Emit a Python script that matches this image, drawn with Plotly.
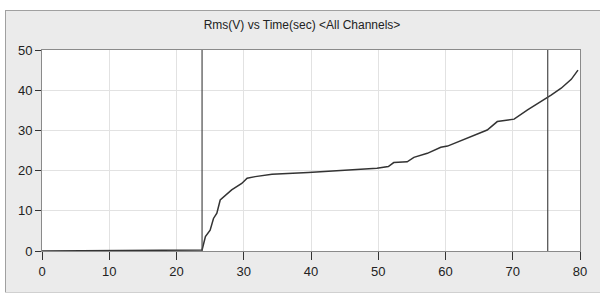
import plotly.graph_objects as go

# Data
time_sec = [0, 23.8, 24.3, 25.0, 25.5, 26.0, 26.5, 27.3, 28.2, 29.7, 30.5, 31.7, 34.2,
            39.6, 44.1, 49.8, 51.5, 52.3, 54.3, 55.3, 57.3, 59.3, 60.3, 62.2, 64.2,
            66.2, 67.7, 70.2, 72.2, 74.2, 75.7, 77.2, 78.7, 79.7]
rms_v = [0, 0.25, 3.6, 5.2, 8.1, 9.4, 12.7, 13.9, 15.2, 16.8, 18.1, 18.5, 19.1,
         19.5, 20.0, 20.6, 21.0, 22.0, 22.2, 23.3, 24.3, 25.8, 26.1, 27.4, 28.9,
         30.1, 32.2, 32.8, 35.1, 37.1, 38.8, 40.5, 42.7, 45.0]
cursor_x = [23.8, 75.2]
x_ticks = [0, 10, 20, 30, 40, 50, 60, 70, 80]
y_ticks = [0, 10, 20, 30, 40, 50]
title_text = "Rms(V) vs Time(sec) &lt;All Channels&gt;"

FONT = "Liberation Sans Narrow, Liberation Sans, Arial, sans-serif"
W, H = 600, 296
ML, MR, MT, MB = 42, 20, 50, 45
PW, PH = W - ML - MR, H - MT - MB
PANEL_BG = "#ebebeb"


def px(x):
    return (x - ML) / PW


def py(y):
    return (H - MB - y) / PH


fig = go.Figure()
fig.add_trace(go.Scatter(x=time_sec, y=rms_v, mode="lines",
                         line=dict(color="#333333", width=1.5), hoverinfo="skip"))

for cx in cursor_x:
    fig.add_shape(type="line", xref="x", yref="paper", x0=cx, x1=cx, y0=0, y1=1,
                  line=dict(color="#4a4a4a", width=1.2))

# white strips outside the grey panel (panel = paper background)
for (ax0, ax1, ay0, ay1) in [(0, W, 0, 10), (0, 5, 0, H), (0, W, 293, H)]:
    fig.add_shape(type="rect", xref="paper", yref="paper",
                  x0=px(ax0 - 1), x1=px(ax1), y0=py(ay1 + 1), y1=py(ay0 - 1),
                  fillcolor="white", line=dict(width=0))
# panel border lines
fig.add_shape(type="line", xref="paper", yref="paper", x0=px(5), x1=px(W + 1),
              y0=py(10.5), y1=py(10.5), line=dict(color="#a0a0a0", width=1))
fig.add_shape(type="line", xref="paper", yref="paper", x0=px(5.5), x1=px(5.5),
              y0=py(10.5), y1=py(293), line=dict(color="#a0a0a0", width=1))
fig.add_shape(type="line", xref="paper", yref="paper", x0=px(5), x1=px(W + 1),
              y0=py(292.5), y1=py(292.5), line=dict(color="#d0d0d0", width=1))

fig.update_layout(
    width=W, height=H,
    margin=dict(l=ML, r=MR, t=MT, b=MB),
    paper_bgcolor=PANEL_BG, plot_bgcolor="white",
    showlegend=False,
    font=dict(family=FONT, size=12, color="#222"),
    title=dict(text=title_text, x=px(302), xref="paper", xanchor="center",
               y=1 - 25 / H, yanchor="middle",
               font=dict(family=FONT, size=12, color="#222")),
)
fig.update_xaxes(range=[0, 80], tickvals=x_ticks, showgrid=True, gridcolor="#e2e2e2",
                 zeroline=False, showline=True, linecolor="#8a8a8a", mirror=True,
                 ticks="outside", ticklen=8, tickcolor="#333", tickfont=dict(size=13))
fig.update_yaxes(range=[0, 50], tickvals=y_ticks, showgrid=True, gridcolor="#e2e2e2",
                 zeroline=False, showline=True, linecolor="#8a8a8a", mirror=True,
                 ticks="outside", ticklen=6, tickcolor="#333", tickfont=dict(size=13))

fig.write_html("out.html", config={"displayModeBar": False},
               post_script="document.body.style.margin='0';document.body.style.overflow='hidden';")
